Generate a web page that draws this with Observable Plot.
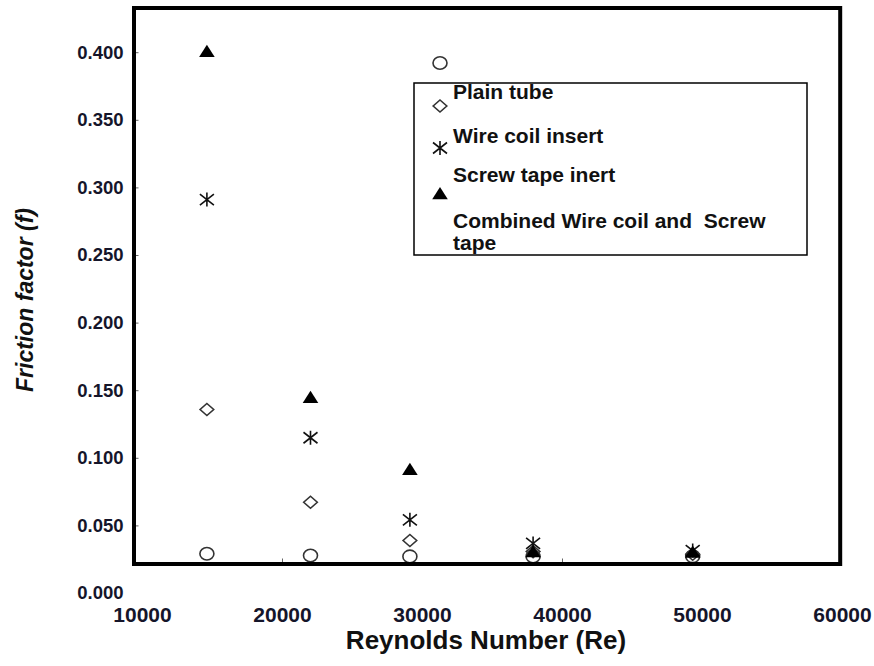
<!DOCTYPE html>
<html>
<head>
<meta charset="utf-8">
<script src="https://cdn.jsdelivr.net/npm/d3@7"></script>
<script src="https://cdn.jsdelivr.net/npm/@observablehq/plot@0.6"></script>
<style>
  html, body { margin: 0; padding: 0; background: #fff; }
  #chart { width: 874px; height: 666px; }
</style>
</head>
<body>
<div id="chart"></div>
<script>
// ---- data ----
const reynolds   = [14600, 22000, 29100, 37900, 49300];
const plainTube  = [0.0294, 0.0281, 0.0274, 0.0274, 0.0275];
const wireCoil   = [0.1361, 0.0675, 0.0392, 0.0310, 0.0290];
const screwTape  = [0.2914, 0.1152, 0.0545, 0.0370, 0.0318];
const combined   = [0.4000, 0.1440, 0.0908, 0.0300, 0.0296];
const seriesNames = ["Plain tube", "Wire coil insert", "Screw tape inert", "Combined Wire coil and  Screw", "tape"];
const xTicks = [10000, 20000, 30000, 40000, 50000, 60000];
const yTicks = [0, 0.05, 0.1, 0.15, 0.2, 0.25, 0.3, 0.35, 0.4];
const xInnerTicks = [20000, 40000];
const xTitle = "Reynolds Number (Re)";
const yTitle = "Friction factor (f)";

// ---- symbols ----
const K = 0.5523;
const ellipseSym = {draw(c) { const rx = 7, ry = 6.3;
  c.moveTo(rx, 0);
  c.bezierCurveTo(rx, K*ry, K*rx, ry, 0, ry);
  c.bezierCurveTo(-K*rx, ry, -rx, K*ry, -rx, 0);
  c.bezierCurveTo(-rx, -K*ry, -K*rx, -ry, 0, -ry);
  c.bezierCurveTo(K*rx, -ry, rx, -K*ry, rx, 0);
  c.closePath(); }};
const diamondSym = {draw(c) { c.moveTo(0, -6); c.lineTo(6.8, 0); c.lineTo(0, 6); c.lineTo(-6.8, 0); c.closePath(); }};
const starSym = {draw(c) { c.moveTo(0, -7); c.lineTo(0, 7); c.moveTo(-7, -5.5); c.lineTo(7, 5.5); c.moveTo(-7, 5.5); c.lineTo(7, -5.5); }};
const triSym = {draw(c) { c.moveTo(0, -8); c.lineTo(7.8, 4.2); c.lineTo(-7.8, 4.2); c.closePath(); }};

const rows = (ys) => reynolds.map((x, i) => ({x, y: ys[i]}));

const plot = Plot.plot({
  width: 874,
  height: 666,
  marginLeft: 133.5,
  marginRight: 34.3,
  marginTop: 7.5,
  marginBottom: 102.5,
  style: {fontFamily: "'Liberation Sans', Arial, sans-serif", background: "white", color: "#111", overflow: "visible"},
  x: {domain: [9393, 59836]},
  y: {domain: [0.02182, 0.43306]},
  marks: [
    Plot.axisX(xTicks, {tickSize: 0, tickPadding: 43.5, fontSize: 21, fontWeight: "bold", label: null, tickFormat: d => String(d), fill: "#15152a"}),
    Plot.axisX(xInnerTicks, {tickSize: -5, tickFormat: () => "", label: null, stroke: "#666"}),
    Plot.axisY(yTicks, {tickSize: 0, tickPadding: 10.5, fontSize: 18.5, fontWeight: "bold", label: null, tickFormat: d3.format(".3f"), fill: "#15152a"}),
    Plot.axisY(yTicks.filter(d => d > 0.022), {tickSize: -5, tickFormat: () => "", label: null, stroke: "#666"}),
    Plot.dot(rows(plainTube), {x: "x", y: "y", symbol: ellipseSym, stroke: "#333", strokeWidth: 1.6, fill: "none"}),
    Plot.dot(rows(wireCoil), {x: "x", y: "y", symbol: diamondSym, stroke: "#333", strokeWidth: 1.6, fill: "none"}),
    Plot.dot(rows(screwTape), {x: "x", y: "y", symbol: starSym, stroke: "#111", strokeWidth: 1.6, fill: "none"}),
    Plot.dot(rows(combined), {x: "x", y: "y", symbol: triSym, fill: "#000", stroke: "none"}),
    Plot.frame({stroke: "#000", strokeWidth: 4})
  ]
});
document.getElementById("chart").appendChild(plot);

const svg = d3.select(plot);
const font = "'Liberation Sans', Arial, sans-serif";

// axis titles
svg.append("text")
  .attr("x", 486).attr("y", 649)
  .attr("text-anchor", "middle")
  .attr("font-family", font).attr("font-size", 26).attr("font-weight", "bold")
  .attr("fill", "#111").text(xTitle);
svg.append("text")
  .attr("transform", "translate(33,300) rotate(-90)")
  .attr("text-anchor", "middle")
  .attr("font-family", font).attr("font-size", 23).attr("font-weight", "bold").attr("font-style", "italic")
  .attr("fill", "#111").text(yTitle);

// legend
const lg = svg.append("g").attr("text-anchor", "start");
lg.append("rect").attr("x", 414).attr("y", 83).attr("width", 393).attr("height", 172)
  .attr("fill", "white").attr("stroke", "#000").attr("stroke-width", 1.5);
const legendSyms = [
  {sym: ellipseSym, y: 63, fill: "none", stroke: "#333"},
  {sym: diamondSym, y: 106, fill: "none", stroke: "#333"},
  {sym: starSym, y: 148, fill: "none", stroke: "#111"},
  {sym: triSym, y: 195, fill: "#000", stroke: "none"}
];
legendSyms.forEach(s => {
  lg.append("path").attr("d", d3.symbol().type(s.sym)())
    .attr("transform", `translate(440,${s.y})`)
    .attr("fill", s.fill).attr("stroke", s.stroke).attr("stroke-width", 1.6);
});
const labelY = [99, 143, 182, 228, 250];
seriesNames.forEach((t, i) => {
  lg.append("text").attr("x", 453).attr("y", labelY[i])
    .attr("text-anchor", "start")
    .attr("font-family", font).attr("font-size", 21).attr("font-weight", "bold")
    .attr("fill", "#111").style("white-space", "pre").text(t);
});
</script>
</body>
</html>
